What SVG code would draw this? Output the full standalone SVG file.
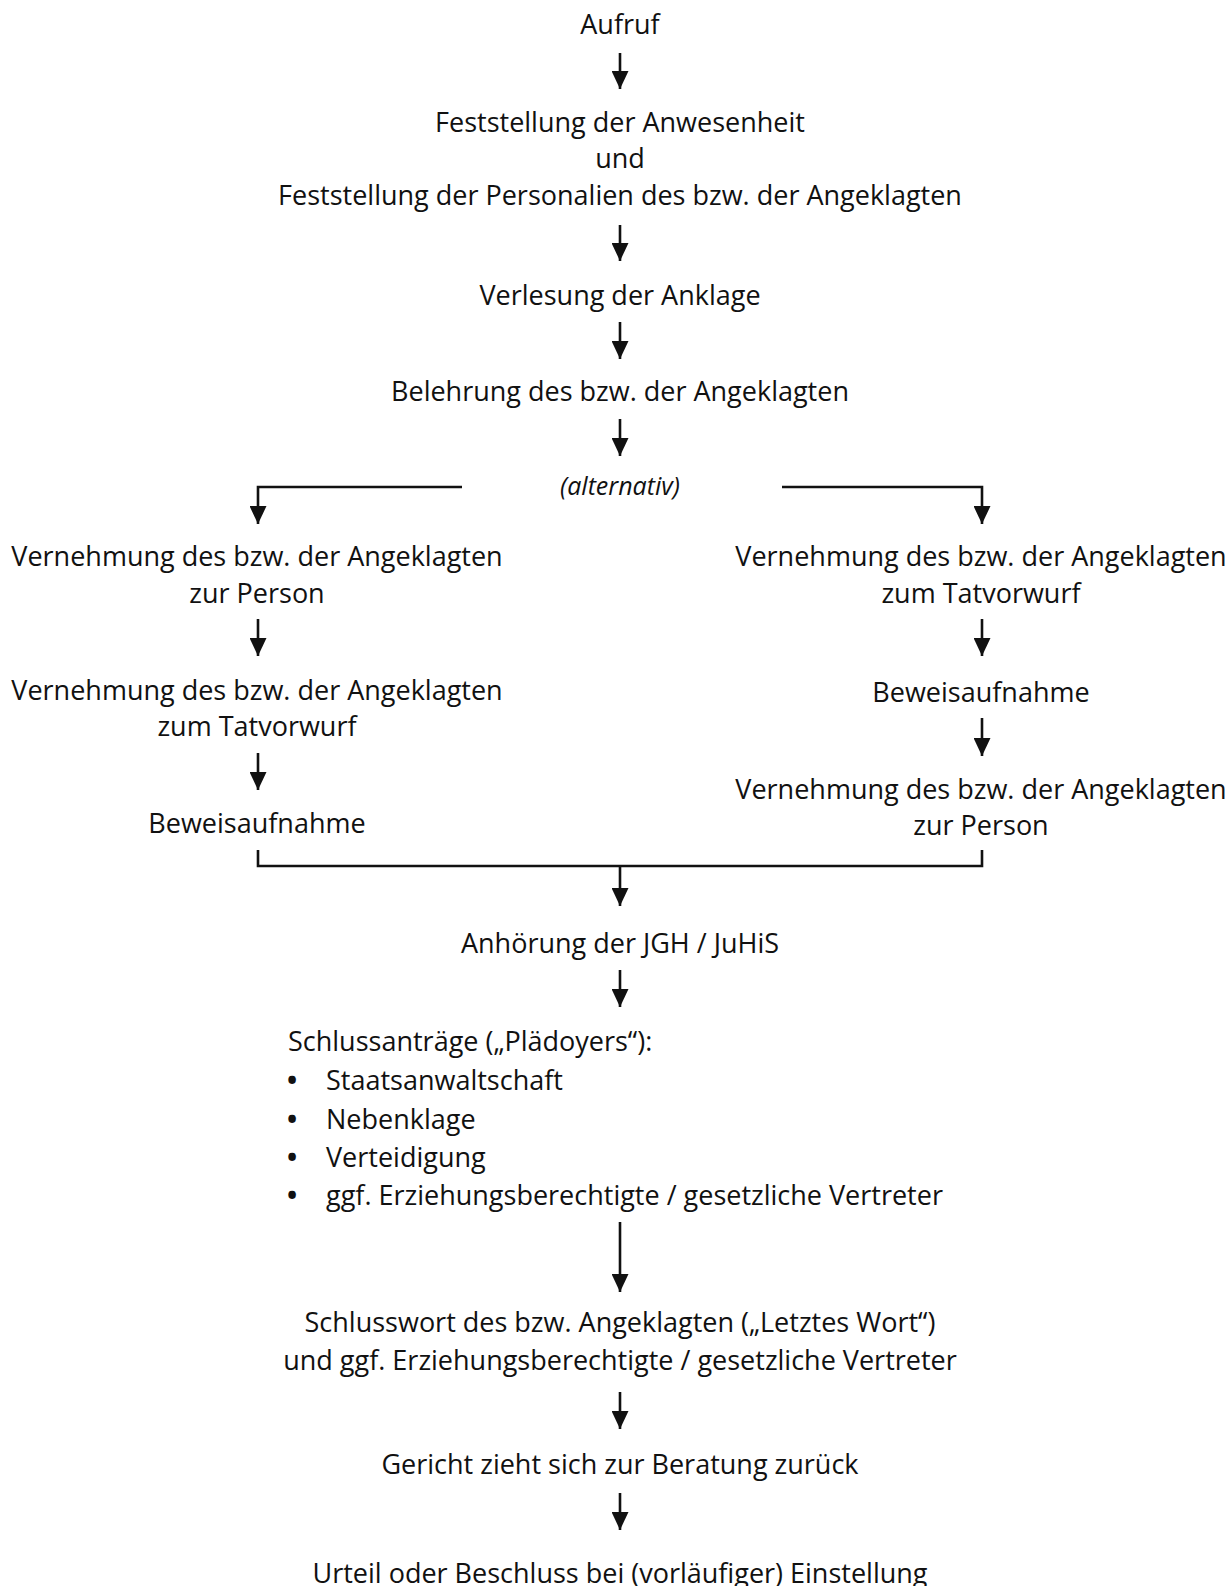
<svg xmlns="http://www.w3.org/2000/svg" width="1231" height="1586" viewBox="0 0 1231 1586">
<style>
text{font-family:"Open Sans","Noto Sans","Liberation Sans",sans-serif;font-size:27px;fill:#111}
.c{text-anchor:middle}
.i{font-style:italic}
.b{font-weight:bold}
.ln{fill:none;stroke:#111;stroke-width:2.6}
</style>
<defs>
<marker id="ah" markerUnits="userSpaceOnUse" markerWidth="18" markerHeight="17" refX="18" refY="8.5" orient="auto" viewBox="0 0 18 17">
<path d="M0,0 L18,8.5 L0,17 Z" fill="#111"/>
</marker>
</defs>
<rect width="1231" height="1586" fill="#fff"/>
<g id="connectors">
<path class="ln" d="M620,53 V89" marker-end="url(#ah)"/>
<path class="ln" d="M620,225 V261" marker-end="url(#ah)"/>
<path class="ln" d="M620,322 V359" marker-end="url(#ah)"/>
<path class="ln" d="M620,419 V456" marker-end="url(#ah)"/>
<path class="ln" d="M462,487 H258 V524" marker-end="url(#ah)"/>
<path class="ln" d="M782,487 H982 V524" marker-end="url(#ah)"/>
<path class="ln" d="M258,619 V656" marker-end="url(#ah)"/>
<path class="ln" d="M258,753 V790" marker-end="url(#ah)"/>
<path class="ln" d="M982,619 V656" marker-end="url(#ah)"/>
<path class="ln" d="M982,718 V756" marker-end="url(#ah)"/>
<path class="ln" d="M258,850 V866 H982 V850"/>
<path class="ln" d="M620,866 V906" marker-end="url(#ah)"/>
<path class="ln" d="M620,970 V1007" marker-end="url(#ah)"/>
<path class="ln" d="M620,1222 V1292" marker-end="url(#ah)"/>
<path class="ln" d="M620,1392 V1429" marker-end="url(#ah)"/>
<path class="ln" d="M620,1493 V1530" marker-end="url(#ah)"/>
</g>
<g id="n-aufruf"><text class="c" x="620" y="34">Aufruf</text></g>
<g id="n-feststellung">
<text class="c" x="620" y="132">Feststellung der Anwesenheit</text>
<text class="c" x="620" y="168">und</text>
<text class="c" x="620" y="205">Feststellung der Personalien des bzw. der Angeklagten</text>
</g>
<g id="n-verlesung"><text class="c" x="620" y="305">Verlesung der Anklage</text></g>
<g id="n-belehrung"><text class="c" x="620" y="401">Belehrung des bzw. der Angeklagten</text></g>
<g id="n-alternativ"><text class="c i" x="620" y="495" style="font-size:25px">(alternativ)</text></g>
<g id="n-l1">
<text class="c" x="257" y="566">Vernehmung des bzw. der Angeklagten</text>
<text class="c" x="257" y="603">zur Person</text>
</g>
<g id="n-l2">
<text class="c" x="257" y="700">Vernehmung des bzw. der Angeklagten</text>
<text class="c" x="257" y="736">zum Tatvorwurf</text>
</g>
<g id="n-l3"><text class="c" x="257" y="833">Beweisaufnahme</text></g>
<g id="n-r1">
<text class="c" x="981" y="566">Vernehmung des bzw. der Angeklagten</text>
<text class="c" x="981" y="603">zum Tatvorwurf</text>
</g>
<g id="n-r2"><text class="c" x="981" y="702">Beweisaufnahme</text></g>
<g id="n-r3">
<text class="c" x="981" y="799">Vernehmung des bzw. der Angeklagten</text>
<text class="c" x="981" y="835">zur Person</text>
</g>
<g id="n-anhoerung"><text class="c" x="620" y="953">Anhörung der JGH / JuHiS</text></g>
<g id="n-schlussantraege">
<text x="288" y="1051">Schlussanträge („Plädoyers“):</text>
<text class="b" x="287" y="1090">•</text><text x="326" y="1090">Staatsanwaltschaft</text>
<text class="b" x="287" y="1129">•</text><text x="326" y="1129">Nebenklage</text>
<text class="b" x="287" y="1167">•</text><text x="326" y="1167">Verteidigung</text>
<text class="b" x="287" y="1205">•</text><text x="326" y="1205">ggf. Erziehungsberechtigte / gesetzliche Vertreter</text>
</g>
<g id="n-schlusswort">
<text class="c" x="620" y="1332">Schlusswort des bzw. Angeklagten („Letztes Wort“)</text>
<text class="c" x="620" y="1370">und ggf. Erziehungsberechtigte / gesetzliche Vertreter</text>
</g>
<g id="n-gericht"><text class="c" x="620" y="1474">Gericht zieht sich zur Beratung zurück</text></g>
<g id="n-urteil"><text class="c" x="620" y="1583">Urteil oder Beschluss bei (vorläufiger) Einstellung</text></g>
</svg>
